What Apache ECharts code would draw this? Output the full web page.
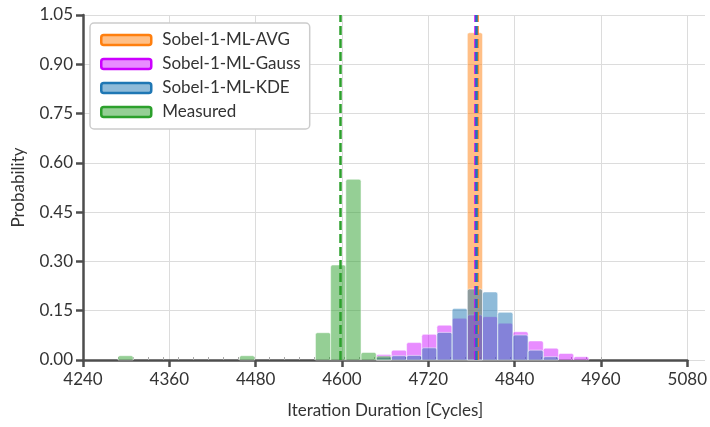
<!DOCTYPE html>
<html>
<head>
<meta charset="utf-8">
<script src="https://cdn.jsdelivr.net/npm/echarts@6/dist/echarts.min.js"></script>
<style>
html, body { margin: 0; padding: 0; background: #fff; }
#chart { width: 710px; height: 427px; }
</style>
</head>
<body>
<div id="chart"></div>
<script>
// histogram bins shared by every series
var binStart = 4288.4;
var binWidth = 21;
var binCount = 32;

var seriesNames = ['Sobel-1-ML-AVG', 'Sobel-1-ML-Gauss', 'Sobel-1-ML-KDE', 'Measured'];
var lineColors = ['#ff7f0e', '#cc00ff', '#1f77b4', '#2ca02c'];
var fillColors = ['rgba(255,127,14,0.5)', 'rgba(204,0,255,0.45)', 'rgba(31,119,180,0.5)', 'rgba(44,160,44,0.5)'];

// first bin index + probability per bin
var avgFirstBin = 23;
var avgProb = [0.996];
var gaussFirstBin = 17;
var gaussProb = [0.017, 0.030, 0.053, 0.078, 0.106, 0.127, 0.137, 0.132, 0.112, 0.086, 0.058, 0.036, 0.020, 0.010];
var kdeFirstBin = 17;
var kdeProb = [0.008, 0.013, 0.014, 0.037, 0.084, 0.157, 0.216, 0.207, 0.145, 0.076, 0.030, 0.010];
var measuredFirstBin = 0;
var measuredProb = [0.013, 0, 0, 0, 0, 0, 0, 0, 0.013, 0, 0, 0, 0, 0.083, 0.289, 0.550, 0.023, 0.012];

// mean of each distribution (dashed lines)
var meanValues = [4784.5, 4782.6, 4783.5, 4595];

var xTicks = { min: 4240, max: 5080, step: 120 };
var yTicks = { min: 0, max: 1.05, step: 0.15 };

var font = 'Lato';
var fs = 17;

function toBins(first, probs) {
    var out = [];
    for (var i = 0; i < probs.length; i++) {
        if (!probs[i]) continue;
        var x0 = binStart + (first + i) * binWidth;
        out.push([x0, x0 + binWidth, probs[i]]);
    }
    return out;
}

var binEdges = [];
for (var k = 0; k <= binCount; k++) {
    var e = binStart + k * binWidth;
    if (e <= xTicks.max) binEdges.push(e);
}

function renderBar(params, api) {
    var p0 = api.coord([api.value(0), 0]);
    var p1 = api.coord([api.value(1), api.value(2)]);
    return {
        type: 'rect',
        shape: { x: p0[0], y: p1[1], width: p1[0] - p0[0], height: p0[1] - p1[1], r: [2, 2, 0, 0] },
        style: { fill: api.visual('color'), stroke: 'rgba(255,255,255,0.5)', lineWidth: 1 }
    };
}

var hist = [
    toBins(avgFirstBin, avgProb),
    toBins(gaussFirstBin, gaussProb),
    toBins(kdeFirstBin, kdeProb),
    toBins(measuredFirstBin, measuredProb)
];

var series = [];
seriesNames.forEach(function (name, i) {
    series.push({
        name: name,
        type: 'custom',
        xAxisIndex: 0,
        yAxisIndex: 0,
        renderItem: renderBar,
        itemStyle: { color: fillColors[i] },
        encode: { x: [0, 1], y: 2 },
        data: hist[i],
        z: 2
    });
});
seriesNames.forEach(function (name, i) {
    series.push({
        name: name + ' mean',
        type: 'line',
        xAxisIndex: 0,
        yAxisIndex: 0,
        data: [],
        z: 3,
        markLine: {
            silent: true,
            symbol: ['none', 'none'],
            label: { show: false },
            lineStyle: { color: lineColors[i], width: 2.5, type: [9, 4] },
            data: [{ xAxis: meanValues[i] }]
        }
    });
});

var chart = echarts.init(document.getElementById('chart'));

var axisDark = { color: '#4d4d4d', width: 2.5 };

option = {
    animation: false,
    grid: [
        { left: 83, top: 15, right: 5, bottom: 67 },
        { left: 83, top: 15, right: 19.5, bottom: 67 }
    ],
    legend: {
        orient: 'vertical',
        left: 90,
        top: 23,
        padding: [8, 9, 8, 10],
        backgroundColor: '#fff',
        borderColor: '#cccccc',
        borderWidth: 1.5,
        borderRadius: 4,
        itemWidth: 50,
        itemHeight: 10,
        itemGap: 6,
        icon: 'roundRect',
        textStyle: { fontFamily: font, fontSize: fs, color: '#333', lineHeight: 18, padding: [0, 0, 0, 6] },
        data: seriesNames.map(function (n, i) {
            return { name: n, itemStyle: { color: fillColors[i], borderColor: lineColors[i], borderWidth: 2.5 } };
        })
    },
    xAxis: [
        { gridIndex: 0, type: 'value', min: xTicks.min, max: 5100, show: false },
        {
            gridIndex: 1, type: 'value', position: 'bottom', min: xTicks.min, max: xTicks.max, interval: xTicks.step,
            name: 'Iteration Duration [Cycles]', nameLocation: 'middle', nameGap: 42,
            nameTextStyle: { fontFamily: font, fontSize: fs, color: '#333' },
            axisLine: { lineStyle: axisDark },
            axisTick: { length: 7, lineStyle: axisDark },
            axisLabel: { fontFamily: font, fontSize: fs, color: '#333', margin: 11, formatter: function (v) { return String(v); } },
            splitLine: { show: true, lineStyle: { color: '#dcdcdc', width: 1 } }
        },
        {
            gridIndex: 1, type: 'value', position: 'bottom', min: xTicks.min, max: xTicks.max,
            axisLine: { show: false },
            axisLabel: { show: false },
            splitLine: { show: false },
            axisTick: { show: true, inside: true, length: 3, customValues: binEdges, lineStyle: { color: '#aaaaaa', width: 1 } }
        }
    ],
    yAxis: [
        {
            gridIndex: 0, type: 'value', min: yTicks.min, max: yTicks.max, interval: yTicks.step,
            name: 'Probability', nameLocation: 'middle', nameGap: 56,
            nameTextStyle: { fontFamily: font, fontSize: fs, color: '#333' },
            axisLine: { show: true, lineStyle: axisDark },
            axisTick: { show: true, length: 7, lineStyle: axisDark },
            axisLabel: { fontFamily: font, fontSize: fs, color: '#333', margin: 10, formatter: function (v) { return v.toFixed(2); } },
            splitLine: { show: true, lineStyle: { color: '#dcdcdc', width: 1 } }
        },
        { gridIndex: 1, type: 'value', min: yTicks.min, max: yTicks.max, show: false }
    ],
    series: series
};

chart.setOption(option);
</script>
</body>
</html>
